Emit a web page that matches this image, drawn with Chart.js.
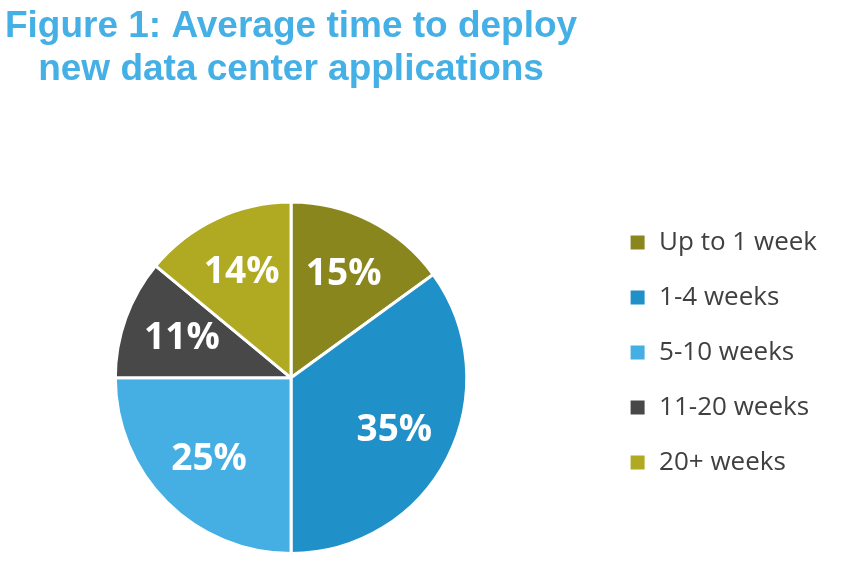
<!DOCTYPE html>
<html>
<head>
<meta charset="utf-8">
<script src="https://cdn.jsdelivr.net/npm/chart.js@4/dist/chart.umd.min.js"></script>
<style>
  html, body { margin: 0; padding: 0; background: #ffffff; overflow: hidden; }
  #wrap { width: 845px; height: 570px; position: relative; overflow: hidden; }
  #c { position: absolute; left: -18px; top: 0; }
</style>
</head>
<body>
<div id="wrap"><canvas id="c" width="863" height="570"></canvas></div>
<script>
const titleLines = ["Figure 1: Average time to deploy", "new data center applications"];
const categories = ["Up to 1 week", "1-4 weeks", "5-10 weeks", "11-20 weeks", "20+ weeks"];
const shares = [15, 35, 25, 11, 14];
const sliceColors = ["#8a861e", "#2090c8", "#45aee2", "#484848", "#b0aa22"];

const sliceLabels = {
  id: 'sliceLabels',
  afterDatasetsDraw(chart) {
    const ctx = chart.ctx;
    const meta = chart.getDatasetMeta(0);
    ctx.save();
    ctx.fillStyle = '#ffffff';
    ctx.font = 'bold 37px "Open Sans", sans-serif';
    ctx.textAlign = 'center';
    ctx.textBaseline = 'middle';
    meta.data.forEach((arc, i) => {
      const p = arc.getProps(['x', 'y', 'startAngle', 'endAngle', 'outerRadius'], true);
      const mid = (p.startAngle + p.endAngle) / 2;
      const r = p.outerRadius * 0.66;
      ctx.fillText(shares[i] + '%', p.x + Math.cos(mid) * r, p.y + Math.sin(mid) * r);
    });
    ctx.restore();
  }
};

new Chart(document.getElementById('c'), {
  type: 'pie',
  data: {
    labels: categories,
    datasets: [{
      data: shares,
      backgroundColor: sliceColors,
      borderColor: '#ffffff',
      borderWidth: 3
    }]
  },
  options: {
    responsive: false,
    animation: false,
    layout: { padding: { top: 0, bottom: 15, left: 0, right: 18 } },
    plugins: {
      title: {
        display: true,
        text: titleLines,
        fullSize: false,
        color: '#45b0e5',
        font: { family: '"Liberation Sans", Arial, sans-serif', size: 37, weight: 'bold', lineHeight: 1.17 },
        padding: { top: 5, bottom: 109 }
      },
      legend: {
        position: 'right',
        align: 'start',
        fullSize: false,
        labels: {
          boxWidth: 17,
          boxHeight: 17,
          padding: 29,
          color: '#404040',
          font: { family: '"Open Sans", sans-serif', size: 26 }
        }
      },
      tooltip: { enabled: false }
    }
  },
  plugins: [sliceLabels]
});
</script>
</body>
</html>
